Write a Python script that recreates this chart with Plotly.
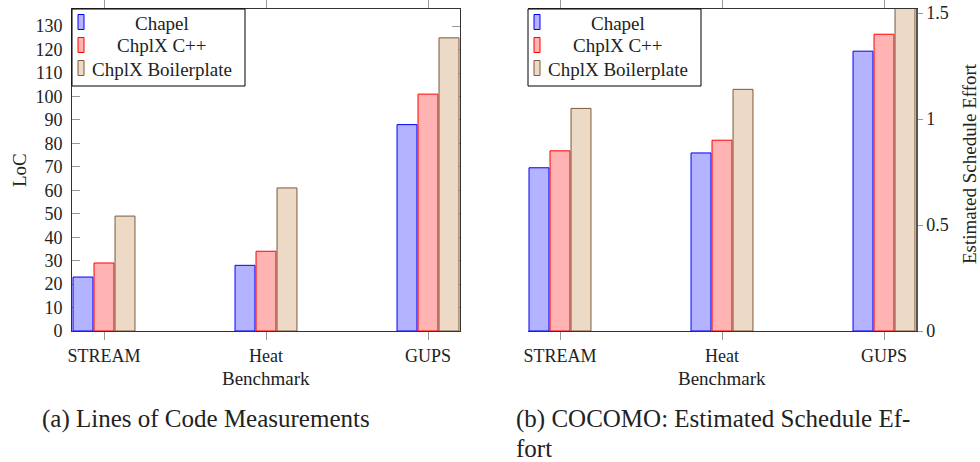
import plotly.graph_objects as go

# ---------------- data ----------------
categories = ["STREAM", "Heat", "GUPS"]
series_names = ["Chapel", "ChplX C++", "ChplX Boilerplate"]
legend_labels_right = ["Chapel", "ChplX C++", "ChplX Boilerplate"]

loc_chapel = [23, 28, 88]
loc_cpp = [29, 34, 101]
loc_boiler = [49, 61, 125]

sched_chapel = [0.77, 0.84, 1.32]
sched_cpp = [0.85, 0.90, 1.40]
sched_boiler = [1.05, 1.14, 1.60]

loc_ticks = list(range(0, 131, 10))
sched_ticks = [0, 0.5, 1, 1.5]
sched_ticktext = ["0", "0.5", "1", "1.5"]

# ---------------- styles ----------------
fills = ["#b3b3ff", "#ffb3b3", "#ecd9c6"]
edges = ["#0000ff", "#ff0000", "#7d5a3a"]
FONT = "Liberation Serif, DejaVu Serif, serif"
TXT = "#222222"

W, H = 980, 462
def px(x):
    return x / W
def py(y):
    return 1 - y / H

L_X0, L_X1 = 72, 460
R_X0, R_X1 = 528, 916
Y0, Y1 = 9, 331

fig = go.Figure()

loc_series = [loc_chapel, loc_cpp, loc_boiler]
sched_series = [sched_chapel, sched_cpp, sched_boiler]
for i, name in enumerate(series_names):
    fig.add_trace(go.Bar(
        x=categories, y=loc_series[i], name=name, showlegend=False,
        marker=dict(color=fills[i], line=dict(color=edges[i], width=1)),
        xaxis="x", yaxis="y"))
for i, name in enumerate(series_names):
    fig.add_trace(go.Bar(
        x=categories, y=sched_series[i], name=name, showlegend=False,
        marker=dict(color=fills[i], line=dict(color=edges[i], width=1)),
        xaxis="x2", yaxis="y2"))

axis_font = dict(family=FONT, size=18, color=TXT)
title_font = dict(family=FONT, size=19, color=TXT)
xr = [-0.1975, 2.1975]

fig.update_layout(
    template="none",
    width=W, height=H,
    margin=dict(l=0, r=0, t=0, b=0, pad=0),
    paper_bgcolor="white", plot_bgcolor="white",
    barmode="group", bargap=0.611, bargroupgap=0.05,
    font=dict(family=FONT, color=TXT),
    xaxis=dict(domain=[px(L_X0), px(L_X1)], anchor="y", range=xr, automargin=False,
               showline=True, linecolor="#333", linewidth=1, mirror="ticks",
               ticks="outside", ticklen=8, tickcolor="#999", tickwidth=1,
               showgrid=False, zeroline=False, tickfont=axis_font,
               ticklabeloverflow="allow", layer="below traces"),
    yaxis=dict(domain=[py(Y1), py(Y0)], anchor="x", range=[0, 137.3], automargin=False,
               tickvals=loc_ticks, showline=True, linecolor="#333", linewidth=1,
               mirror="ticks", ticks="inside", ticklen=8, tickcolor="#999",
               ticklabelstandoff=5, ticklabeloverflow="allow",
               showgrid=False, zeroline=False, tickfont=axis_font,
               layer="below traces"),
    xaxis2=dict(domain=[px(R_X0), px(R_X1)], anchor="y2", range=xr, automargin=False,
                showline=True, linecolor="#333", linewidth=1, mirror="ticks",
                ticks="outside", ticklen=8, tickcolor="#999", tickwidth=1,
                showgrid=False, zeroline=False, tickfont=axis_font,
                ticklabeloverflow="allow", layer="below traces"),
    yaxis2=dict(domain=[py(Y1), py(Y0)], anchor="x2", side="right", automargin=False,
                range=[0, 1.519], tickvals=sched_ticks, ticktext=sched_ticktext,
                showline=True, linecolor="#555", linewidth=1.5,
                ticks="outside", ticklen=5, tickcolor="#999",
                ticklabeloverflow="allow",
                showgrid=False, zeroline=False, tickfont=axis_font,
                layer="below traces"),
)

ann = []
def text(s, x, y, font, **kw):
    d = dict(text=s, x=px(x), y=py(y), xref="paper", yref="paper", showarrow=False,
             xanchor="center", yanchor="middle", font=font)
    d.update(kw)
    ann.append(d)

# axis titles
text("LoC", 19, 170, title_font, textangle=-90)
text("Estimated Schedule Effort", 969, 164, title_font, textangle=-90)
text("Benchmark", (L_X0 + L_X1) / 2, 378, title_font)
text("Benchmark", (R_X0 + R_X1) / 2, 378, title_font)
# captions
cap_font = dict(family=FONT, size=25, color=TXT)
text("(a) Lines of Code Measurements", 40, 419, cap_font, xanchor="left")
text("(b) COCOMO: Estimated Schedule Ef-", 514, 419, cap_font, xanchor="left")
text("fort", 514, 448, cap_font, xanchor="left")

shapes = []
# manual legends
leg_font = dict(family=FONT, size=19, color=TXT)
for box_x0, box_x1, labels in [(L_X0, 245, series_names), (R_X0, 701, legend_labels_right)]:
    shapes.append(dict(type="rect", xref="paper", yref="paper",
                       x0=px(box_x0), x1=px(box_x1), y0=py(86), y1=py(Y0),
                       line=dict(color="black", width=1), fillcolor="white", layer="above"))
    for i, lab in enumerate(labels):
        cy = 22 + 23 * i
        shapes.append(dict(type="rect", xref="paper", yref="paper",
                           x0=px(box_x0 + 6), x1=px(box_x0 + 12),
                           y0=py(cy + 7.5), y1=py(cy - 7.5),
                           line=dict(color=edges[i], width=1), fillcolor=fills[i],
                           layer="above"))
        text(lab, box_x0 + 90, cy + 1, leg_font)

fig.update_layout(annotations=ann, shapes=shapes)
fig.write_html("out.html", config={"displayModeBar": False},
               post_script="document.body.style.margin='0';document.body.style.overflow='hidden';")
